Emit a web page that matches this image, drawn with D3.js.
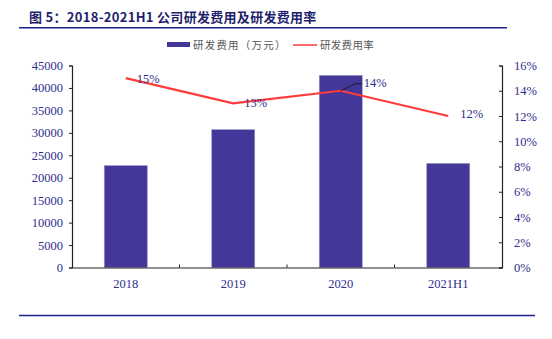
<!DOCTYPE html>
<html><head><meta charset="utf-8">
<script src="https://cdn.jsdelivr.net/npm/d3@7"></script>
<style>body{margin:0;background:#fff}svg{display:block}</style>
</head><body>
<script>
const categories = ["2018", "2019", "2020", "2021H1"];
const rdExpense = [22700, 30700, 42800, 23200];
const rdRate = [15.0, 13.0, 14.0, 12.0];
const rateLabels = ["15%", "13%", "14%", "12%"];
const leftTicks = [0,5000,10000,15000,20000,25000,30000,35000,40000,45000];
const rightTicks = [0,2,4,6,8,10,12,14,16];

const W = 552, H = 339;
const svg = d3.select("body").append("svg").attr("width", W).attr("height", H);
const navy = "#2e2e8c", barColor = "#43389a", lineColor = "#ff3b3b";
const m = {l:72, r:502, t:65.5, b:267.5};

// title
svg.append("text").attr("x", 29).attr("y", 22)
  .attr("font-family", "'Noto Sans CJK SC', sans-serif").attr("font-weight", "bold")
  .attr("font-size", 13).attr("fill", "#1f1f6e").attr("letter-spacing", 0.3)
  .text("图 5：2018-2021H1 公司研发费用及研发费用率");
svg.append("line").attr("x1", 19).attr("x2", 507).attr("y1", 27.8).attr("y2", 27.8)
  .attr("stroke", "#1f1f8a").attr("stroke-width", 1.6);
svg.append("line").attr("x1", 19).attr("x2", 535).attr("y1", 315.5).attr("y2", 315.5)
  .attr("stroke", "#1f1f8a").attr("stroke-width", 1.6);

const x = d3.scaleBand().domain(categories).range([m.l, m.r]).paddingInner(0.6).paddingOuter(0.3);
const xb = d3.scaleBand().domain(categories).range([m.l, m.r]);
const yL = d3.scaleLinear().domain([0, 45000]).range([m.b, m.t]);
const yR = d3.scaleLinear().domain([0, 16]).range([m.b, m.t]);

// bars
svg.selectAll("rect.bar").data(categories).enter().append("rect")
  .attr("x", d => x(d)).attr("width", x.bandwidth())
  .attr("y", (d,i) => yL(rdExpense[i])).attr("height", (d,i) => m.b - yL(rdExpense[i]))
  .attr("fill", barColor).attr("stroke", "#9a98c0").attr("stroke-width", 0.6);

// axes
const fontAx = "'Liberation Serif', 'Times New Roman', serif";
const gL = svg.append("g").attr("transform", `translate(${m.l},0)`)
  .call(d3.axisLeft(yL).tickValues(leftTicks).tickFormat(d3.format("d")).tickSize(3).tickPadding(6));
const gR = svg.append("g").attr("transform", `translate(${m.r},0)`)
  .call(d3.axisRight(yR).tickValues(rightTicks).tickFormat(d => d + "%").tickSize(-3).tickPadding(12));
const gX = svg.append("g").attr("transform", `translate(0,${m.b})`)
  .call(d3.axisBottom(xb).tickSize(0).tickPadding(12));
[gL, gR, gX].forEach(g => {
  g.select(".domain").attr("stroke", "#222").attr("stroke-width", 1.2);
  g.selectAll(".tick line").attr("stroke", "#222");
  g.selectAll("text").attr("font-family", fontAx).attr("font-size", 12.5).attr("fill", navy);
});
// x separator ticks (pointing up)
svg.selectAll("line.sep").data(categories.slice(1)).enter().append("line")
  .attr("x1", d => xb(d)).attr("x2", d => xb(d)).attr("y1", m.b).attr("y2", m.b - 3)
  .attr("stroke", "#222");

// rate line
const cx = d => x(d) + x.bandwidth()/2;
const line = d3.line().x((d,i) => cx(categories[i])).y(d => yR(d));
svg.append("path").datum(rdRate).attr("d", line).attr("fill", "none")
  .attr("stroke", lineColor).attr("stroke-width", 2.2);

// labels
const offs = [[11,4.5,"start"],[11,4,"start"],[23,-4,"start"],[12,2,"start"]];
rdRate.forEach((v,i) => {
  const px = cx(categories[i]), py = yR(v);
  if (i === 2) {
    svg.append("polyline").attr("points", `${px},${py} ${px+15},${py-7} ${px+21},${py-7}`)
      .attr("fill","none").attr("stroke","#111").attr("stroke-width",0.8);
  }
  svg.append("text").attr("x", px + offs[i][0]).attr("y", py + offs[i][1])
    .attr("text-anchor", offs[i][2]).attr("font-family", fontAx)
    .attr("font-size", 12.5).attr("fill", navy).text(rateLabels[i]);
});

// legend
const lg = svg.append("g");
lg.append("rect").attr("x", 167).attr("y", 42).attr("width", 23).attr("height", 5).attr("fill", barColor);
lg.append("text").attr("x", 193).attr("y", 48.5).attr("font-family", "'Noto Sans CJK SC', sans-serif")
  .attr("font-size", 10.5).attr("fill", "#555").attr("letter-spacing", 1.2).text("研发费用（万元）");
lg.append("line").attr("x1", 293).attr("x2", 317).attr("y1", 45).attr("y2", 45)
  .attr("stroke", lineColor).attr("stroke-width", 1.5);
lg.append("text").attr("x", 320).attr("y", 48.5).attr("font-family", "'Noto Sans CJK SC', sans-serif")
  .attr("font-size", 10.5).attr("fill", "#555").attr("letter-spacing", 0.3).text("研发费用率");
</script>
</body></html>
